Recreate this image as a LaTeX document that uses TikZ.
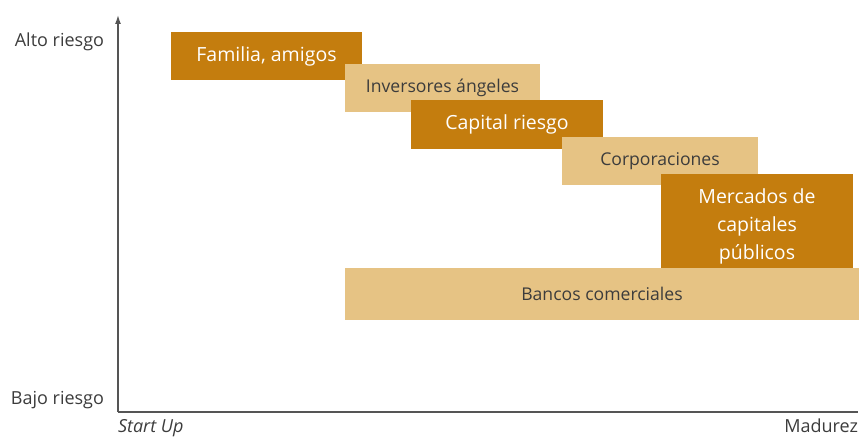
\documentclass[tikz,border=0pt]{standalone}
\usepackage{fontspec}
\usetikzlibrary{arrows.meta}
\setmainfont{Open Sans}
\definecolor{darkochre}{HTML}{C47D0E}
\definecolor{lightochre}{HTML}{E6C384}
\definecolor{labelgray}{HTML}{3C3C3C}
\definecolor{axisgray}{HTML}{555555}
\begin{document}
\begin{tikzpicture}[x=1pt,y=1pt,
  every node/.style={inner sep=0pt, outer sep=0pt},
  band/.style={rectangle, align=center},
  strongtext/.style={align=center, text=white, font=\fontsize{19.5}{28}\selectfont},
  strong/.style={band, fill=darkochre, strongtext},
  soft/.style={band, fill=lightochre, text=labelgray, font=\fontsize{17.6}{24}\selectfont},
  axislabel/.style={text=labelgray, font=\fontsize{18}{21}\selectfont},
  axis/.style={draw=axisgray, line width=1.4pt}]
\useasboundingbox (0,0) rectangle (859,437);

% axes
\coordinate (origin) at (118,25);
\coordinate (ytop) at (118,422);
\coordinate (xend) at (858,25);
\draw[axis,-{Latex[length=9pt,width=6pt]}] (origin) -- (ytop);
\draw[axis] (origin) -- (xend);

% axis labels
\node[axislabel, anchor=east] (high) at (104,395) {Alto riesgo};
\node[axislabel, anchor=east] (low) at (104,37) {Bajo riesgo};
\node[axislabel, anchor=base west, font=\fontsize{18}{21}\selectfont\itshape] (start) at (118,5) {Start Up};
\node[axislabel, anchor=base east] (mature) at (858,5) {Madurez};

% financing sources, drawn in order so later bands overlap earlier ones
\node[strong, minimum width=191, minimum height=48] (fam) at (266.5,381) {Familia, amigos};
\node[soft, minimum width=195, minimum height=48] (ang) at (442.5,349) {Inversores ángeles};
\node[strong, minimum width=192, minimum height=49] (vc) at (507,312.5) {Capital riesgo};
\node[soft, minimum width=196, minimum height=48] (corp) at (660,276) {Corporaciones};
\node[band, fill=darkochre, minimum width=192, minimum height=94] (mkt) at (757,216) {};
\node[strongtext] (mkttext) at ([yshift=-5pt]mkt.center) {Mercados de\\capitales\\públicos};
\node[soft, minimum width=514, minimum height=52] (bank) at (602,143) {Bancos comerciales};
\end{tikzpicture}
\end{document}
